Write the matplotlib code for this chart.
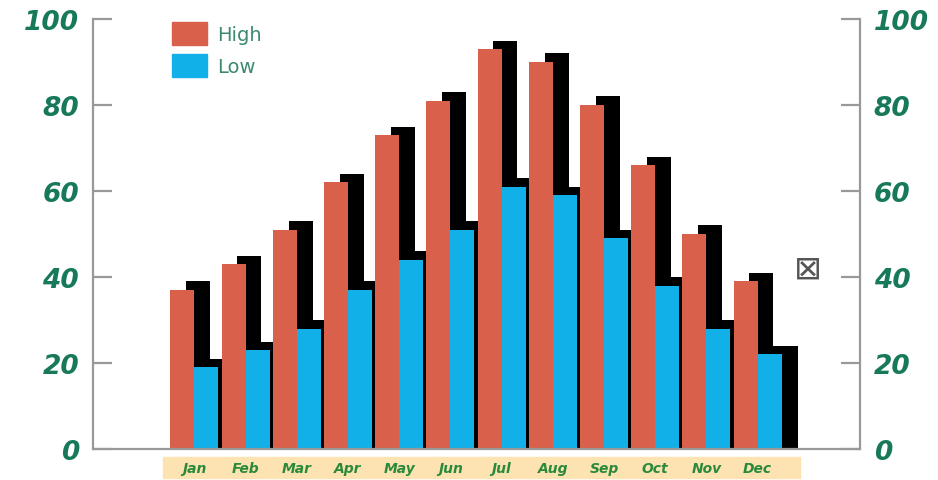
import numpy as np
import matplotlib.pyplot as plt
from matplotlib.patches import Patch, Rectangle

months = ['Jan', 'Feb', 'Mar', 'Apr', 'May', 'Jun',
          'Jul', 'Aug', 'Sep', 'Oct', 'Nov', 'Dec']
high = [37, 43, 51, 62, 73, 81, 93, 90, 80, 66, 50, 39]
low = [19, 23, 28, 37, 44, 51, 61, 59, 49, 38, 28, 22]
yticks = [0, 20, 40, 60, 80, 100]

red = '#d9604a'
blue = '#12b0e8'
green = '#17785a'
grey = '#999999'

fig = plt.figure(figsize=(9.38, 4.81), dpi=100)
ax = fig.add_axes([93 / 938, 1 - 450 / 481, 767 / 938, 430 / 481])
ax.set_zorder(2)

x = np.arange(len(months))
w = 0.47
dx = 0.31   # shadow shift right
dy = 2      # shadow shift up

# black drop shadows first
ax.bar(x - w / 2 + dx, np.array(high) + dy, w, color='black', zorder=1)
ax.bar(x + w / 2 + dx, np.array(low) + dy, w, color='black', zorder=1)
ax.bar(x - w / 2, high, w, color=red, zorder=2, label='High')
ax.bar(x + w / 2, low, w, color=blue, zorder=2, label='Low')

ax.set_xlim(-1.98, 13.0)
ax.set_ylim(0, 100)

ax.spines['top'].set_visible(False)
for s in ['left', 'right', 'bottom']:
    ax.spines[s].set_color(grey)
    ax.spines[s].set_linewidth(1.6)

ax.set_xticks([])
ax.set_yticks(yticks)
ax.tick_params(axis='y', direction='in', length=14, width=1.6, color=grey,
               left=True, right=True, labelleft=True, labelright=True,
               pad=10, labelsize=19, labelcolor=green)
for lab in ax.yaxis.get_ticklabels(which='major'):
    lab.set_fontweight('bold')
    lab.set_fontstyle('italic')

# month strip under the chart
strip = Rectangle((163 / 938, 1 - 479 / 481), 637 / 938, 21 / 481,
                  transform=fig.transFigure, color='#fde3b2', zorder=0)
fig.patches.append(strip)
for i, m in enumerate(months):
    ax.text(i, -0.045, m, transform=ax.get_xaxis_transform(), ha='center',
            va='center', fontsize=10, fontweight='bold', fontstyle='italic',
            color='#2a8a3c', clip_on=False)

handles = [Patch(color=red), Patch(color=blue)]
ax.legend(handles, ['High', 'Low'], loc='upper left',
          bbox_to_anchor=(0.103, 0.993), frameon=False, borderpad=0,
          borderaxespad=0, handlelength=1.8, handleheight=1.44,
          labelspacing=0.46, handletextpad=0.5, fontsize=14,
          labelcolor='#3d8a6e')

ax.text(11.98, 42, '\u22a0', ha='center', va='center', fontsize=24,
        color='#555555')

fig.savefig('out.png', dpi=100)
